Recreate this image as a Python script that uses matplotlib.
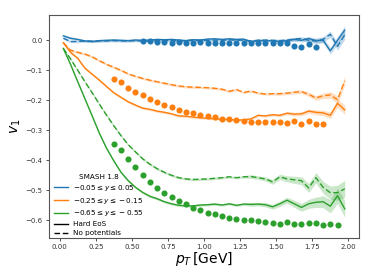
import numpy as np
import matplotlib
matplotlib.use("Agg")
import matplotlib.pyplot as plt
from matplotlib.lines import Line2D

pt_lines = np.round(np.arange(0.025, 2.0, 0.05), 3)

blue_hard = [0.015, 0.007, 0.003, -0.002, -0.004, -0.001, 0.0, 0.001, 0.0, -0.001,
             0.001, 0.0, 0.001, 0.003, 0.002, 0.003, 0.001, -0.001, 0.002, 0.001,
             0.004, 0.005, 0.003, 0.005, 0.003, 0.004, -0.005, 0.0, -0.002, -0.001,
             -0.004, -0.001, 0.003, 0.0, 0.006, -0.001, 0.0, -0.035, 0.0, 0.034]
blue_nopot = [0.007, -0.004, -0.004, -0.002, -0.003, -0.002, -0.002, -0.001, -0.002, -0.002,
              -0.001, -0.002, -0.001, -0.001, 0.0, -0.001, -0.002, -0.001, 0.0, -0.001,
              0.0, 0.001, 0.0, 0.002, 0.0, 0.001, -0.002, 0.0, 0.001, 0.0,
              -0.001, 0.001, 0.004, 0.006, 0.0, -0.002, 0.003, 0.02, -0.02, 0.018]
orange_hard = [-0.008, -0.04, -0.06, -0.093, -0.113, -0.133, -0.154, -0.175, -0.19, -0.205,
               -0.216, -0.226, -0.23, -0.236, -0.24, -0.245, -0.252, -0.253, -0.256, -0.258,
               -0.26, -0.262, -0.263, -0.264, -0.266, -0.265, -0.262, -0.25, -0.252, -0.248,
               -0.25, -0.243, -0.246, -0.245, -0.236, -0.24, -0.242, -0.25, -0.21, -0.232]
orange_nopot = [-0.008, -0.033, -0.04, -0.046, -0.055, -0.068, -0.08, -0.09, -0.1, -0.112,
                -0.12, -0.127, -0.133, -0.138, -0.143, -0.148, -0.152, -0.155, -0.156, -0.157,
                -0.158, -0.16, -0.163, -0.17, -0.164, -0.174, -0.169, -0.176, -0.179, -0.178,
                -0.178, -0.176, -0.173, -0.171, -0.18, -0.192, -0.185, -0.182, -0.198, -0.135]
green_hard = [-0.027, -0.08, -0.138, -0.195, -0.252, -0.31, -0.36, -0.402, -0.44, -0.468,
              -0.49, -0.507, -0.52, -0.528, -0.538, -0.545, -0.55, -0.552, -0.552, -0.549,
              -0.548, -0.546, -0.549, -0.545, -0.55, -0.546, -0.547, -0.546, -0.548, -0.555,
              -0.545, -0.533, -0.545, -0.557, -0.545, -0.54, -0.538, -0.553, -0.518, -0.562]
green_nopot = [-0.027, -0.062, -0.1, -0.138, -0.175, -0.213, -0.25, -0.285, -0.318, -0.348,
               -0.372, -0.395, -0.413, -0.428, -0.44, -0.45, -0.458, -0.462, -0.464, -0.463,
               -0.462, -0.46, -0.458, -0.455, -0.458, -0.455, -0.454, -0.458, -0.462, -0.472,
               -0.455, -0.462, -0.465, -0.468, -0.492, -0.458, -0.49, -0.508, -0.508, -0.495]

# statistical error half-widths (bands)
err_hard = [0.004] * 30 + [0.005, 0.005, 0.006, 0.006, 0.007, 0.008, 0.009, 0.011, 0.013, 0.015]
err_green = [0.004] * 26 + [0.006, 0.006, 0.007, 0.008, 0.009, 0.01, 0.012, 0.013, 0.015, 0.017,
                            0.02, 0.022, 0.025, 0.028]

pt_blue = np.round(np.arange(0.575, 1.80, 0.05), 3)
blue_data = [-0.002, -0.001, -0.004, -0.004, -0.008, -0.006, -0.008, -0.008, -0.006, -0.009,
             -0.009, -0.009, -0.01, -0.008, -0.009, -0.01, -0.01, -0.01, -0.01, -0.01,
             -0.01, -0.019, -0.021, -0.011, -0.021]
pt_orange = np.round(np.arange(0.375, 1.85, 0.05), 3)
orange_data = [-0.130, -0.139, -0.158, -0.171, -0.183, -0.194, -0.207, -0.216, -0.222, -0.231,
               -0.239, -0.242, -0.248, -0.253, -0.256, -0.262, -0.263, -0.267, -0.269, -0.271,
               -0.273, -0.273, -0.273, -0.273, -0.276, -0.269, -0.278, -0.268, -0.279, -0.278]
pt_green = np.round(np.arange(0.375, 1.95, 0.05), 3)
green_data = [-0.344, -0.367, -0.394, -0.422, -0.449, -0.473, -0.491, -0.508, -0.522, -0.536,
              -0.547, -0.558, -0.567, -0.575, -0.578, -0.587, -0.591, -0.596, -0.598, -0.600,
              -0.602, -0.607, -0.609, -0.611, -0.606, -0.613, -0.611, -0.608, -0.608, -0.614,
              -0.613, -0.617]

labels = [r"$-0.05 \leq y \leq 0.05$", r"$-0.25 \leq y \leq -0.15$", r"$-0.65 \leq y \leq -0.55$"]
colors = ["#1f77b4", "#ff7f0e", "#2ca02c"]

fig = plt.figure(figsize=(3.74, 2.8), dpi=100)
ax = fig.add_axes([0.131, 0.15, 0.829, 0.796])

series = [
    (blue_hard, blue_nopot, err_hard, err_hard, pt_blue, blue_data),
    (orange_hard, orange_nopot, err_hard, err_hard, pt_orange, orange_data),
    (green_hard, green_nopot, err_green, err_green, pt_green, green_data),
]
for (hard, nopot, eh, en, ptd, dat), c in zip(series, colors):
    hard = np.array(hard); nopot = np.array(nopot)
    eh = np.array(eh); en = np.array(en)
    ax.plot(pt_lines, hard, color=c, lw=1.0, ls='-')
    ax.fill_between(pt_lines, hard - eh, hard + eh, color=c, alpha=0.25, lw=0)
    ax.plot(pt_lines, nopot, color=c, lw=1.0, ls='--', dashes=(4, 2))
    ax.fill_between(pt_lines, nopot - en, nopot + en, color=c, alpha=0.25, lw=0)
    ax.plot(ptd, dat, 'o', color=c, ms=4.4, mew=0)

ax.set_xlim(-0.074, 2.074)
ax.set_ylim(-0.659, 0.084)
ax.set_xticks([0.0, 0.25, 0.5, 0.75, 1.0, 1.25, 1.5, 1.75, 2.0])
ax.set_xticklabels(["0.00", "0.25", "0.50", "0.75", "1.00", "1.25", "1.50", "1.75", "2.00"])
ax.set_yticks([0.0, -0.1, -0.2, -0.3, -0.4, -0.5, -0.6])
ax.tick_params(labelsize=5, length=2.5, width=0.6, pad=2, colors='#333333')
for s in ax.spines.values():
    s.set_linewidth(0.8)
    s.set_color('#555555')
ax.set_xlabel(r"$p_T\,$[GeV]", fontsize=10, labelpad=0)
ax.set_ylabel(r"$v_1$", fontsize=10, labelpad=2)

handles = [Line2D([], [], color=c, lw=1.0) for c in colors]
handles += [Line2D([], [], color='black', lw=1.0, ls='-'),
            Line2D([], [], color='black', lw=1.0, ls='--', dashes=(4, 2))]
leg = ax.legend(handles, labels + ["Hard EoS", "No potentials"], title="SMASH 1.8",
                loc='lower left', bbox_to_anchor=(0.0, -0.015), frameon=False,
                fontsize=5.2, title_fontsize=5.2,
                borderaxespad=0.3, labelspacing=0.4, handlelength=2.0, handletextpad=0.6)

fig.savefig("out.png", dpi=100)
